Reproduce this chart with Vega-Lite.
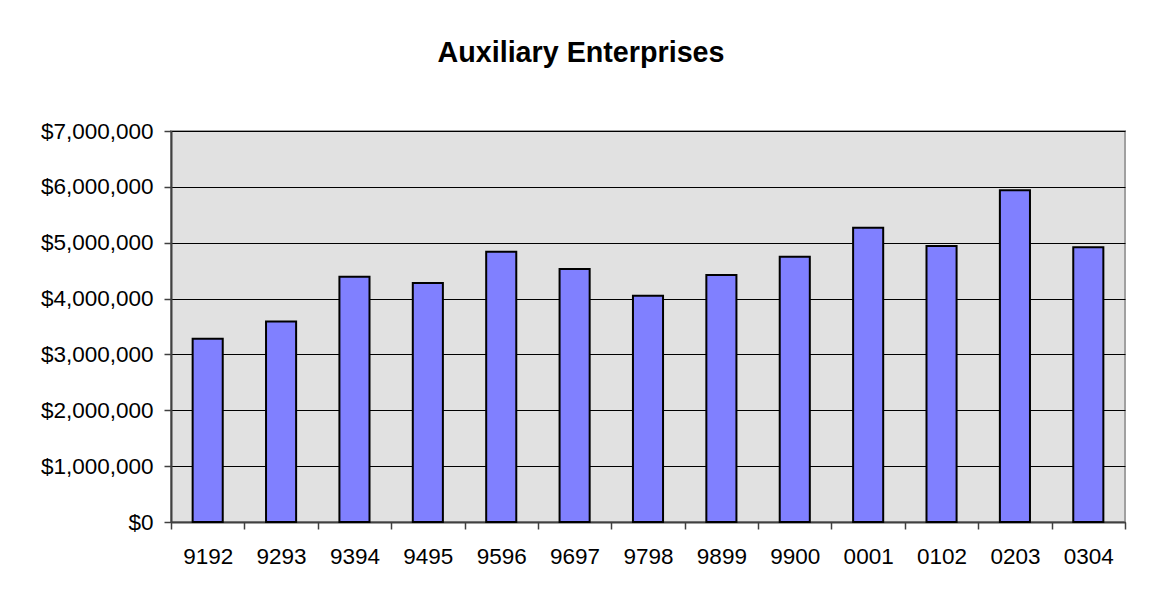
{
  "$schema": "https://vega.github.io/schema/vega-lite/v6.json",
  "width": 954,
  "height": 391,
  "autosize": {"type": "none"},
  "padding": {"left": 171, "top": 131, "right": 26, "bottom": 80},
  "background": "white",
  "title": {
    "text": "Auxiliary Enterprises",
    "font": "Liberation Sans",
    "fontSize": 28.7,
    "fontWeight": "bold",
    "color": "black",
    "anchor": "middle",
    "baseline": "alphabetic",
    "offset": 68,
    "dx": -67,
    "dy": 39
  },
  "data": {
    "values": [
      {"year": "9192", "amount": 3280000},
      {"year": "9293", "amount": 3590000},
      {"year": "9394", "amount": 4390000},
      {"year": "9495", "amount": 4280000},
      {"year": "9596", "amount": 4840000},
      {"year": "9697", "amount": 4530000},
      {"year": "9798", "amount": 4050000},
      {"year": "9899", "amount": 4420000},
      {"year": "9900", "amount": 4750000},
      {"year": "0001", "amount": 5270000},
      {"year": "0102", "amount": 4940000},
      {"year": "0203", "amount": 5940000},
      {"year": "0304", "amount": 4920000}
    ]
  },
  "mark": {
    "type": "bar",
    "fill": "#8080FF",
    "stroke": "black",
    "strokeWidth": 2,
    "width": {"band": 0.41}
  },
  "encoding": {
    "x": {
      "field": "year",
      "type": "nominal",
      "sort": null,
      "scale": {"paddingInner": 0, "paddingOuter": 0},
      "axis": {
        "title": null,
        "labelAngle": 0,
        "tickBand": "extent",
        "labelFont": "Liberation Sans",
        "labelFontSize": 22.5,
        "labelColor": "black",
        "labelPadding": 16,
        "tickSize": 7,
        "tickColor": "#404040",
        "tickWidth": 1.5,
        "domainColor": "#404040",
        "domainWidth": 2,
        "grid": false
      }
    },
    "y": {
      "field": "amount",
      "type": "quantitative",
      "scale": {"domain": [0, 7000000], "nice": false},
      "axis": {
        "title": null,
        "values": [0, 1000000, 2000000, 3000000, 4000000, 5000000, 6000000, 7000000],
        "format": "$,.0f",
        "labelFont": "Liberation Sans",
        "labelFontSize": 22.5,
        "labelColor": "black",
        "labelPadding": 11,
        "tickSize": 7,
        "tickColor": "#404040",
        "tickWidth": 1.5,
        "domainColor": "#404040",
        "domainWidth": 2,
        "grid": true,
        "gridColor": "black",
        "gridWidth": 1
      }
    }
  },
  "config": {
    "view": {"fill": "#E1E1E1", "stroke": "#A0A0A0", "strokeWidth": 2}
  }
}
